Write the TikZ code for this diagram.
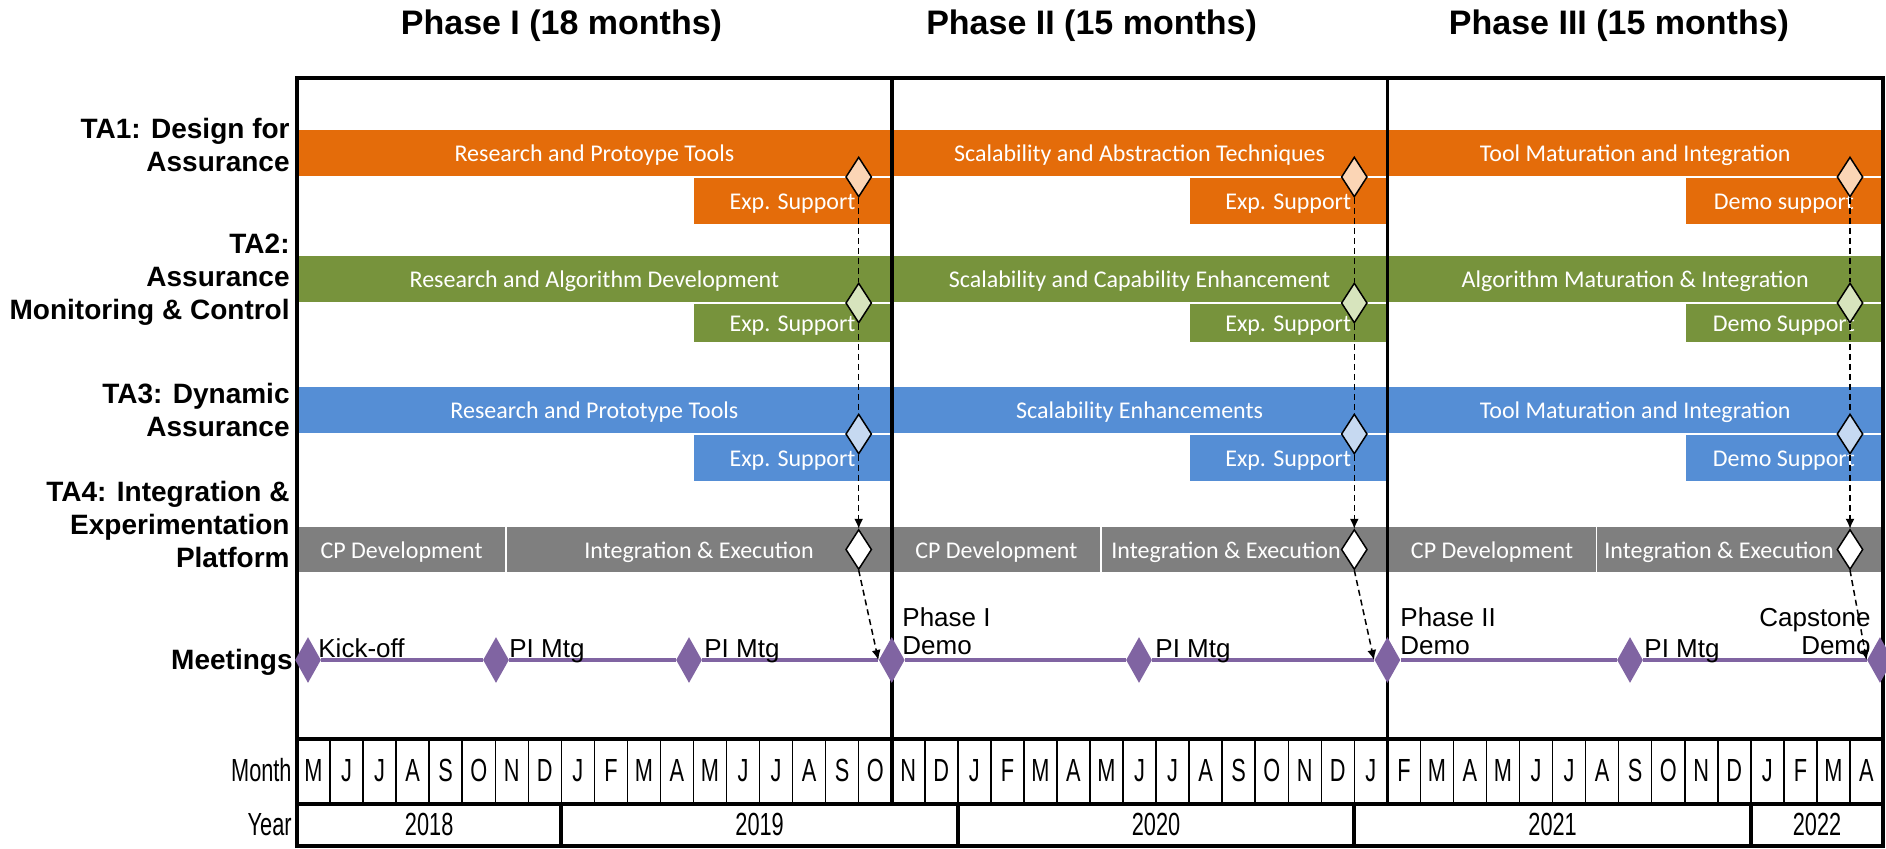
\documentclass[tikz,border=0pt]{standalone}
\usepackage{fontspec}
\setmainfont{Liberation Sans}
\newfontfamily\barfont{Carlito}
\newfontfamily\narrowfont[FakeStretch=0.68]{Liberation Sans}
\usetikzlibrary{shapes.geometric,arrows.meta}

\definecolor{taorange}{HTML}{E46C0A}
\definecolor{tagreen}{HTML}{77933C}
\definecolor{tablue}{HTML}{558ED5}
\definecolor{tagrey}{HTML}{7F7F7F}
\definecolor{mtgpurple}{HTML}{8064A2}
\definecolor{lightorange}{HTML}{FBD5B5}
\definecolor{lightgreen}{HTML}{D7E4BD}
\definecolor{lightblue}{HTML}{C6D9F1}

\tikzset{
  heading/.style={font=\bfseries\fontsize{17}{20}\selectfont, anchor=base, inner sep=0pt},
  rowlabel/.style={font=\bfseries\fontsize{14}{16.5}\selectfont, align=right, anchor=south east, inner sep=0pt},
  bartext/.style={font=\barfont\fontsize{12}{14}\selectfont, text=white, inner sep=0pt, text height=8.5pt, text depth=0pt},
  barfill/.style={draw=white, line width=0.75pt},
  milestone/.style={diamond, draw=black, line width=0.75pt, minimum width=13pt, minimum height=20pt, inner sep=0pt, aspect=0.65},
  meeting/.style={diamond, fill=mtgpurple, minimum width=13pt, minimum height=23pt, inner sep=0pt, aspect=0.57},
  mtglabel/.style={font=\fontsize{13}{14}\selectfont, inner sep=0pt},
  handoff/.style={line width=0.75pt, dash pattern=on 3pt off 2pt},
  handofftip/.style={handoff, -{Latex[length=5pt,width=4.5pt]}},
  monthtext/.style={font=\narrowfont\fontsize{16}{18}\selectfont, anchor=base, inner sep=0pt},
  thickrule/.style={line width=2pt},
  phaserule/.style={line width=1.75pt},
  thinrule/.style={line width=0.75pt}
}

% bar: name, colour, x1, x2, y1, y2, text x, text
\newcommand\ganttbar[8]{%
  \path[barfill, fill=#2] (#3,#5) rectangle (#4,#6);
  \node[bartext] (#1) at (#7,{(#5+#6)/2}) {#8};}

\begin{document}
\begin{tikzpicture}[x=0.5pt, y=-0.5pt]
\useasboundingbox (0,0) rectangle (1886,848);

% phase headings
\node[heading] (ph1) at (561.5,34) {Phase I (18 months)};
\node[heading] (ph2) at (1091.6,34) {Phase II (15 months)};
\node[heading] (ph3) at (1619,34) {Phase III (15 months)};

% row labels
\node[rowlabel] (ta1) at (290,172) {TA1: Design for\\Assurance};
\node[rowlabel] (ta2) at (290,326) {TA2:\\Assurance\\Monitoring \& Control};
\node[rowlabel] (ta3) at (290,437) {TA3: Dynamic\\Assurance};
\node[rowlabel] (ta4) at (290,568) {TA4: Integration \&\\Experimentation\\Platform};
\node[rowlabel, anchor=base east] (mtg) at (293,669) {Meetings};

% TA1 bars
\ganttbar{t1a}{taorange}{297}{891.75}{129}{177}{594.4}{Research and Protoype Tools}
\ganttbar{t1b}{taorange}{891.75}{1387.4}{129}{177}{1139.6}{Scalability and Abstraction Techniques}
\ganttbar{t1c}{taorange}{1387.4}{1883}{129}{177}{1635.2}{Tool Maturation and Integration}
\ganttbar{e1a}{taorange}{693.5}{891.75}{177}{225}{792.6}{Exp. Support}
\ganttbar{e1b}{taorange}{1189.1}{1387.4}{177}{225}{1288.25}{Exp. Support}
\ganttbar{e1c}{taorange}{1684.75}{1883}{177}{225}{1783.9}{Demo support}

% TA2 bars
\ganttbar{t2a}{tagreen}{297}{891.75}{255}{303}{594.4}{Research and Algorithm Development}
\ganttbar{t2b}{tagreen}{891.75}{1387.4}{255}{303}{1139.6}{Scalability and Capability Enhancement}
\ganttbar{t2c}{tagreen}{1387.4}{1883}{255}{303}{1635.2}{Algorithm Maturation \& Integration}
\ganttbar{e2a}{tagreen}{693.5}{891.75}{303}{343}{792.6}{Exp. Support}
\ganttbar{e2b}{tagreen}{1189.1}{1387.4}{303}{343}{1288.25}{Exp. Support}
\ganttbar{e2c}{tagreen}{1684.75}{1883}{303}{343}{1783.9}{Demo Support}

% TA3 bars
\ganttbar{t3a}{tablue}{297}{891.75}{386}{434}{594.4}{Research and Prototype Tools}
\ganttbar{t3b}{tablue}{891.75}{1387.4}{386}{434}{1139.6}{Scalability Enhancements}
\ganttbar{t3c}{tablue}{1387.4}{1883}{386}{434}{1635.2}{Tool Maturation and Integration}
\ganttbar{e3a}{tablue}{693.5}{891.75}{434}{482}{792.6}{Exp. Support}
\ganttbar{e3b}{tablue}{1189.1}{1387.4}{434}{482}{1288.25}{Exp. Support}
\ganttbar{e3c}{tablue}{1684.75}{1883}{434}{482}{1783.9}{Demo Support}

% TA4 bars
\ganttbar{cp1}{tagrey}{297}{506.2}{526}{573}{401.6}{CP Development}
\ganttbar{ie1}{tagrey}{506.2}{891.75}{526}{573}{699}{Integration \& Execution}
\ganttbar{cp2}{tagrey}{891.75}{1100.95}{526}{573}{996.35}{CP Development}
\ganttbar{ie2}{tagrey}{1100.95}{1387.4}{526}{573}{1226}{Integration \& Execution}
\ganttbar{cp3}{tagrey}{1387.4}{1596.6}{526}{573}{1492}{CP Development}
\ganttbar{ie3}{tagrey}{1596.6}{1883}{526}{573}{1719}{Integration \& Execution}

% month grid
\foreach \k in {1,...,47}{
  \draw[thinrule] ({297+\k*33.0417},738.5) -- ({297+\k*33.0417},803.5);
}
\foreach \k in {8,20,32,44}{
  \draw[thickrule] ({297+\k*33.0417},803.5) -- ({297+\k*33.0417},848);
}
\foreach \mo [count=\i from 0] in {M,J,J,A,S,O,N,D,J,F,M,A,M,J,J,A,S,O,N,D,J,F,M,A,M,J,J,A,S,O,N,D,J,F,M,A,M,J,J,A,S,O,N,D,J,F,M,A}{
  \node[monthtext] (mo\i) at ({297+(\i+0.5)*33.0417},781) {\mo};
}
\node[monthtext] (y18) at (429.2,835) {2018};
\node[monthtext] (y19) at (759.6,835) {2019};
\node[monthtext] (y20) at (1156,835) {2020};
\node[monthtext] (y21) at (1552.6,835) {2021};
\node[monthtext] (y22) at (1817,835) {2022};
\node[monthtext, anchor=base east] (monthlbl) at (292,781) {Month};
\node[monthtext, anchor=base east] (yearlbl) at (292,835) {Year};

% frame and phase dividers
\draw[phaserule] (891.75,78) -- (891.75,803.5);
\draw[phaserule] (1387.4,78) -- (1387.4,803.5);
\draw[thickrule] (297,738.5) -- (1883,738.5);
\draw[thickrule] (297,803.5) -- (1883,803.5);
\draw[thickrule] (297,846) -- (1883,846);
\draw[thickrule] (297,848) -- (297,78) -- (1883,78) -- (1883,848);

% milestones
\node[milestone, fill=lightorange] (m1a) at (858.7,177) {};
\node[milestone, fill=lightgreen]  (m2a) at (858.7,303) {};
\node[milestone, fill=lightblue]   (m3a) at (858.7,434) {};
\node[milestone, fill=white]       (m4a) at (858.7,549.5) {};
\node[milestone, fill=lightorange] (m1b) at (1354.3,177) {};
\node[milestone, fill=lightgreen]  (m2b) at (1354.3,303) {};
\node[milestone, fill=lightblue]   (m3b) at (1354.3,434) {};
\node[milestone, fill=white]       (m4b) at (1354.3,549.5) {};
\node[milestone, fill=lightorange] (m1c) at (1850,177) {};
\node[milestone, fill=lightgreen]  (m2c) at (1850,303) {};
\node[milestone, fill=lightblue]   (m3c) at (1850,434) {};
\node[milestone, fill=white]       (m4c) at (1850,549.5) {};

% meetings
\node[meeting] (mt1) at (308,660) {};
\node[meeting] (mt2) at (496,660) {};
\node[meeting] (mt3) at (689,660) {};
\node[meeting] (mt4) at (891.75,660) {};
\node[meeting] (mt5) at (1139,660) {};
\node[meeting] (mt6) at (1387.4,660) {};
\node[meeting] (mt7) at (1630,660) {};
\node[meeting] (mt8) at (1880,660) {};
\foreach \a/\b in {mt1/mt2,mt2/mt3,mt3/mt4,mt4/mt5,mt5/mt6,mt6/mt7,mt7/mt8}{
  \draw[mtgpurple, line width=2pt] (\a) -- (\b);
}
\node[mtglabel, anchor=base west] (kick) at (318,657) {Kick-off};
\node[mtglabel, anchor=base west] (pi1) at (509,657) {PI Mtg};
\node[mtglabel, anchor=base west] (pi2) at (704,657) {PI Mtg};
\node[mtglabel, anchor=south west, align=left] (demo1) at (902,655) {Phase I\\Demo};
\node[mtglabel, anchor=base west] (pi3) at (1155,657) {PI Mtg};
\node[mtglabel, anchor=south west, align=left] (demo2) at (1400,655) {Phase II\\Demo};
\node[mtglabel, anchor=base west] (pi4) at (1644,657) {PI Mtg};
\node[mtglabel, anchor=south east, align=right] (demo3) at (1871,655) {Capstone\\Demo};

% hand-off chains from the technical areas into each demo
\foreach \p/\d in {a/mt4,b/mt6,c/mt8}{
  \draw[handoff] (m1\p.south) -- (m2\p.north);
  \draw[handoff] (m2\p.south) -- (m3\p.north);
  \draw[handofftip] (m3\p.south) -- (m4\p.north);
  \draw[handofftip] (m4\p.south) -- (\d.west);
}
\end{tikzpicture}
\end{document}
